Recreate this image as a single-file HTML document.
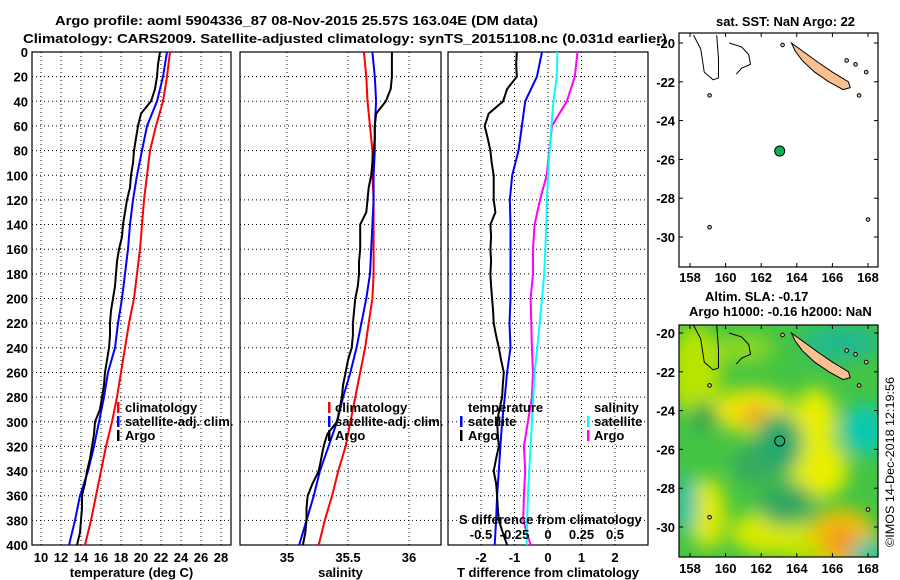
<!DOCTYPE html>
<html><head><meta charset="utf-8"><style>
body{margin:0;background:#fff;width:900px;height:580px;overflow:hidden}
svg{display:block;font-family:"Liberation Sans",sans-serif;font-weight:bold}
</style></head><body>
<svg id="c" width="900" height="580">
<defs>
<filter id="bl" x="-50%" y="-50%" width="200%" height="200%"><feGaussianBlur stdDeviation="9"/></filter>
<clipPath id="m2c"><rect x="679" y="325" width="199" height="232"/></clipPath>
</defs>
</svg>
<script>
const depths=[0,10,20,30,40,50,60,70,80,90,100,110,120,130,140,150,160,170,180,190,200,210,220,230,240,250,260,270,280,290,300,310,320,330,340,350,360,370,380,390,400];
const argoT=[21.9,21.7,21.6,21.4,21.0,20.0,19.7,19.5,19.3,19.2,19.0,18.9,18.6,18.4,18.2,18.1,17.8,17.6,17.5,17.4,17.2,17.0,16.9,16.9,16.8,16.6,16.4,16.3,16.1,15.9,15.4,15.3,15.1,14.9,14.6,14.4,14.1,14.1,14.0,13.9,13.6];
const d20=[0,20,40,60,80,100,120,140,160,180,200,220,240,260,280,300,320,340,360,380,400];
const satT=[22.6,22.2,21.6,20.6,20.1,19.6,19.2,18.9,18.7,18.4,18.1,17.7,17.4,16.7,16.3,15.8,15.3,14.7,13.9,13.4,12.8];
const climT=[22.9,22.6,22.2,21.5,20.9,20.6,20.3,20.1,19.9,19.6,19.3,18.8,18.4,18.0,17.6,17.1,16.5,16.0,15.5,15.0,14.4];
const climS=[35.63,35.65,35.66,35.68,35.70,35.70,35.71,35.71,35.71,35.71,35.70,35.67,35.64,35.60,35.56,35.52,35.48,35.42,35.37,35.31,35.26];
const satS=[35.70,35.72,35.73,35.72,35.72,35.71,35.71,35.70,35.69,35.68,35.65,35.61,35.57,35.52,35.46,35.41,35.34,35.27,35.22,35.16,35.10];
const argoS=[35.86,35.86,35.86,35.85,35.81,35.73,35.72,35.72,35.71,35.70,35.69,35.67,35.66,35.65,35.60,35.60,35.60,35.59,35.59,35.58,35.56,35.55,35.54,35.54,35.53,35.50,35.48,35.46,35.45,35.43,35.41,35.33,35.30,35.28,35.26,35.21,35.17,35.16,35.16,35.15,35.13];
const argoTd=[-0.93,-0.95,-0.93,-1.22,-1.34,-1.77,-1.89,-1.80,-1.72,-1.68,-1.62,-1.62,-1.62,-1.57,-1.72,-1.70,-1.72,-1.70,-1.72,-1.70,-1.67,-1.64,-1.62,-1.55,-1.47,-1.40,-1.32,-1.35,-1.37,-1.45,-1.52,-1.50,-1.47,-1.55,-1.62,-1.55,-1.52,-1.50,-1.47,-1.35,-1.22];
const satTd=[-0.18,-0.33,-0.68,-0.78,-0.88,-1.07,-1.14,-1.12,-1.12,-1.12,-1.12,-1.15,-1.12,-1.22,-1.29,-1.37,-1.42,-1.47,-1.52,-1.55,-1.59];
const satSd=[0.07,0.065,0.04,0.025,0.012,0,-0.008,-0.013,-0.02,-0.028,-0.045,-0.062,-0.08,-0.1,-0.11,-0.12,-0.13,-0.14,-0.15,-0.155,-0.16];
const argoSd=[0.22,0.2,0.14,0.03,0.01,-0.01,-0.06,-0.1,-0.112,-0.112,-0.13,-0.125,-0.12,-0.112,-0.12,-0.15,-0.18,-0.17,-0.18,-0.185,-0.13];
const tTicks=[10,12,14,16,18,20,22,24,26,28];
const sTicks=[35,35.5,36];
const tdTicks=[-2,-1,0,1,2];
const sdTicks=[-0.5,-0.25,0,0.25,0.5];
const dTicks=[0,20,40,60,80,100,120,140,160,180,200,220,240,260,280,300,320,340,360,380,400];
const lonTicks=[158,160,162,164,166,168];
const latTicks=[-20,-22,-24,-26,-28,-30];
const argoLon=[163.04], argoLat=[-25.57];

const NS='http://www.w3.org/2000/svg', svg=document.getElementById('c');
function el(t,a,p){const e=document.createElementNS(NS,t);for(const k in a)e.setAttribute(k,a[k]);(p||svg).appendChild(e);return e;}
function txt(s,x,y,a,p){const e=el('text',Object.assign({x:x,y:y,'font-size':13},a||{}),p);e.textContent=s;return e;}
const y0=52,y1=545;
const yD=d=>y0+d/400*(y1-y0);
const P=[
 {x0:32,x1:231,f:v=>41+(v-10)*10,ticks:tTicks,lab:'temperature (deg C)'},
 {x0:240,x1:441,f:v=>287+(v-35)*122,ticks:sTicks,lab:'salinity'},
 {x0:448,x1:648,f:v=>548+v*33.5,ticks:tdTicks,lab:'T difference from climatology'}];
const sdX=v=>548+v*4*33.5;
P.forEach((p,i)=>{
 const g=el('g',{});
 dTicks.forEach(d=>{if(d>0&&d<400){const l=el('line',{x1:p.x0,x2:p.x1,y1:yD(d),y2:yD(d),stroke:'#000','stroke-dasharray':'1,3'},g);}});
 p.ticks.forEach(t=>{const x=p.f(t);const l=el('line',{x1:x,x2:x,y1:y0,y2:y1,stroke:'#000','stroke-dasharray':'1,3'},g);
  const tl=txt(String(t),x,562,{'text-anchor':'middle'},g);});
 const r=el('rect',{x:p.x0,y:y0,width:p.x1-p.x0,height:y1-y0,fill:'none',stroke:'#000','stroke-width':1.2},g);
 const xl=txt(p.lab,(p.x0+p.x1)/2,577,{'text-anchor':'middle'},g);
});
dTicks.forEach(d=>{const t=txt(String(d),28,yD(d)+5,{'text-anchor':'end'});});
function line(xs,ds,fx,col,name){const pts=xs.map((v,i)=>fx(v).toFixed(1)+','+yD(ds[i]).toFixed(1)).join(' ');const l=el('polyline',{points:pts,fill:'none',stroke:col,'stroke-width':2});}
line(climT,d20,P[0].f,'#f00','clim-temp-line');line(satT,d20,P[0].f,'#00f','sat-temp-line');line(argoT,depths,P[0].f,'#000','argo-temp-line');
line(climS,d20,P[1].f,'#f00','clim-sal-line');line(satS,d20,P[1].f,'#00f','sat-sal-line');line(argoS,depths,P[1].f,'#000','argo-sal-line');
line(argoSd,d20,sdX,'#f0f','argo-sdiff-line');line(satSd,d20,sdX,'#0ff','sat-sdiff-line');line(satTd,d20,P[2].f,'#00f','sat-tdiff-line');line(argoTd,depths,P[2].f,'#000','argo-tdiff-line');
function leg(mx,tx,y,col,s){const m=el('rect',{x:mx,y:y-10,width:2.5,height:11,fill:col});const t=txt(s,tx,y);}
leg(117,125,412,'#f00','climatology');leg(117,125,426,'#00f','satellite-adj. clim.');leg(117,125,440,'#000','Argo');
leg(328,335,412,'#f00','climatology');leg(328,335,426,'#00f','satellite-adj. clim.');leg(328,335,440,'#000','Argo');
let t=txt('temperature',468,412);
leg(460,468,426,'#00f','satellite');leg(460,468,440,'#000','Argo');
t=txt('salinity',594,412);
leg(587,594,426,'#0ff','satellite');leg(587,594,440,'#f0f','Argo');
t=txt('S difference from climatology',459,524);
sdTicks.forEach(v=>{const q=txt(String(v),sdX(v),539,{'text-anchor':'middle'});});
// titles
t=txt('Argo profile: aoml 5904336_87 08-Nov-2015 25.57S 163.04E (DM data)',55,25,{textLength:483,lengthAdjust:'spacingAndGlyphs'});
t=txt('Climatology: CARS2009. Satellite-adjusted climatology: synTS_20151108.nc (0.031d earlier)',23,43,{textLength:644,lengthAdjust:'spacingAndGlyphs'});
t=txt('sat. SST: NaN Argo: 22',716,26,{textLength:139,lengthAdjust:'spacingAndGlyphs'});
t=txt('Altim. SLA: -0.17',705,301);
t=txt('Argo h1000: -0.16 h2000: NaN',689,316);
t=txt('©IMOS 14-Dec-2018 12:19:56',0,0,{transform:'translate(894,547) rotate(-90)','font-weight':'normal','font-size':12,textLength:170,lengthAdjust:'spacingAndGlyphs'});
// maps
const lonX=l=>690+(l-158)*17.8;
const maps=[{y0:33,y1:267,lab:282,lat:l=>43+(-20-l)*19.4},{y0:325,y1:557,lab:573,lat:l=>333+(-20-l)*19.4}];
const blobs=[[161.5,-24,'#f0e800',40,22],[161.6,-24.2,'#f0a020',14,10],[165,-24.6,'#e8ee00',22,34],[165.2,-27,'#e8ee00',30,30],[166.5,-30.6,'#f4c000',34,30],[166.5,-30.7,'#f09020',14,14],[159,-29.3,'#e0ea00',18,36],[162.5,-30.3,'#d8ea00',40,22],[158.3,-22,'#b8e400',26,46],[161,-20.8,'#90d820',30,14],[167.8,-25,'#10c8b0',24,26],[157.8,-28.8,'#10c0b0',10,30],[168,-31.3,'#10c8b0',18,12],[166.5,-20.5,'#20b890',40,18],[163,-25.7,'#20a870',24,30],[158.8,-24.3,'#20a050',14,14],[163.4,-28.8,'#30a860',28,22],[161.5,-26.8,'#38a860',20,18],[164.5,-31.5,'#b0e000',20,12]];
const m2=maps[1];
const sla=el('g',{'clip-path':'url(#m2c)'});
el('rect',{x:679,y:325,width:199,height:232,fill:'#44c444'},sla);
const bg=el('g',{filter:'url(#bl)'},sla);
blobs.forEach(b=>{const e=el('ellipse',{cx:lonX(b[0]),cy:m2.lat(b[1]),rx:b[3],ry:b[4],fill:b[2]},bg);});
maps.forEach((m,i)=>{
 const g=el('g',{});
 const nc=[[163.7,-20.0],[164.3,-20.4],[165.2,-21.0],[166.0,-21.5],[166.9,-22.0],[167.0,-22.3],[166.6,-22.4],[165.8,-22.0],[165.0,-21.5],[164.3,-20.9],[163.9,-20.4]];
 const p=el('polygon',{points:nc.map(q=>lonX(q[0])+','+m.lat(q[1])).join(' '),fill:'#fcc090',stroke:'#000','stroke-width':1},g);
 const r1=[[158.2,-19.6],[158.6,-20.3],[158.8,-21.5],[159.3,-21.9],[159.6,-21.8],[159.6,-20.8],[159.5,-19.6]];
 const q1=el('polyline',{points:r1.map(q=>lonX(q[0])+','+m.lat(q[1])).join(' '),fill:'none',stroke:'#000','stroke-width':1},g);
 const r2=[[160.2,-20.0],[160.9,-20.2],[161.3,-20.6],[161.4,-21.1],[160.9,-21.3],[160.6,-21.6]];
 const q2=el('polyline',{points:r2.map(q=>lonX(q[0])+','+m.lat(q[1])).join(' '),fill:'none',stroke:'#000','stroke-width':1},g);
 [[166.8,-20.9],[167.3,-21.1],[167.9,-21.5],[167.5,-22.7],[159.1,-22.7],[168,-29.1],[159.1,-29.5],[163.2,-20.1]].forEach(q=>{const d=el('circle',{cx:lonX(q[0]),cy:m.lat(q[1]),r:1.8,fill:'#fcc090',stroke:'#000'},g);});
 const fr=el('rect',{x:679,y:m.y0,width:199,height:m.y1-m.y0,fill:'none',stroke:'#000','stroke-width':1.2},g);
 lonTicks.forEach(l=>{el('line',{x1:lonX(l),x2:lonX(l),y1:m.y1,y2:m.y1-4,stroke:'#000'},g);el('line',{x1:lonX(l),x2:lonX(l),y1:m.y0,y2:m.y0+4,stroke:'#000'},g);const tl=txt(String(l),lonX(l),m.lab,{'text-anchor':'middle'},g);});
 latTicks.forEach(l=>{el('line',{x1:679,x2:683,y1:m.lat(l),y2:m.lat(l),stroke:'#000'},g);el('line',{x1:874,x2:878,y1:m.lat(l),y2:m.lat(l),stroke:'#000'},g);const tl=txt(String(l),675,m.lat(l)+5,{'text-anchor':'end'},g);});
 const c=el('circle',{cx:lonX(argoLon[0]),cy:m.lat(argoLat[0]),r:5,fill:i==0?'#10b050':'none',stroke:'#000','stroke-width':1},g);
});
</script>
</body></html>
